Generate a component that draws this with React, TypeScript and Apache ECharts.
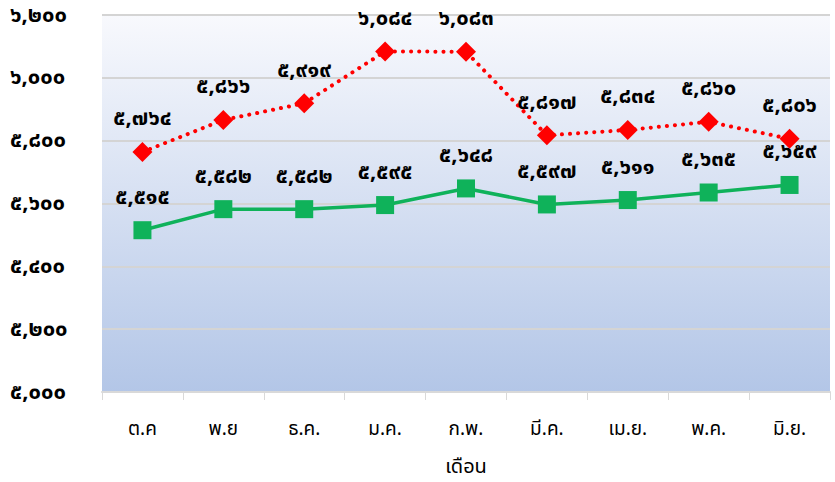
import React, { useEffect, useRef } from "react";
import * as echarts from "echarts";

const categories = ["ต.ค", "พ.ย", "ธ.ค.", "ม.ค.", "ก.พ.", "มี.ค.", "เม.ย.", "พ.ค.", "มิ.ย."];
const redValues = [5764, 5866, 5919, 6084, 6083, 5817, 5834, 5860, 5806];
const greenValues = [5515, 5582, 5582, 5595, 5648, 5597, 5611, 5635, 5659];
const yMin = 5000;
const yMax = 6200;
const yInterval = 200;
const axisName = "เดือน";

const thaiDigits = ["๐", "๑", "๒", "๓", "๔", "๕", "๖", "๗", "๘", "๙"];
function toThai(n: number): string {
  const s = Math.round(n).toString().replace(/\B(?=(\d{3})+(?!\d))/g, ",");
  return s.replace(/[0-9]/g, (d) => thaiDigits[Number(d)]);
}

const FONT = "Tahoma, 'Noto Sans Thai', 'DejaVu Sans', sans-serif";

export default function App() {
  const ref = useRef<HTMLDivElement>(null);
  useEffect(() => {
    if (!ref.current) return;
    const chart = echarts.init(ref.current, undefined, { renderer: "svg" });
    chart.setOption({
      animation: false,
      grid: {
        left: 102,
        right: 5,
        top: 15,
        bottom: 73,
        show: true,
        borderWidth: 0,
        backgroundColor: {
          type: "linear",
          x: 0,
          y: 0,
          x2: 0,
          y2: 1,
          colorStops: [
            { offset: 0, color: "#f8f9fd" },
            { offset: 1, color: "#b3c6e7" },
          ],
        },
      },
      xAxis: {
        type: "category",
        data: categories,
        boundaryGap: true,
        name: axisName,
        nameLocation: "middle",
        nameGap: 65,
        nameTextStyle: { fontSize: 20, color: "#000", fontFamily: FONT },
        axisLine: { show: true, lineStyle: { color: "#d9d9d9", width: 2 } },
        axisTick: { show: true, length: 8, lineStyle: { color: "#d9d9d9", width: 1 } },
        axisLabel: { margin: 28, fontSize: 19, color: "#000", fontFamily: FONT },
      },
      yAxis: {
        type: "value",
        min: yMin,
        max: yMax,
        interval: yInterval,
        axisLine: { show: false },
        axisTick: { show: false },
        splitLine: { lineStyle: { color: "#d4d4d4", width: 2 } },
        axisLabel: {
          align: "left",
          margin: 92,
          fontSize: 22,
          fontWeight: "bold",
          color: "#000",
          fontFamily: FONT,
          formatter: (v: number) => toThai(v),
        },
      },
      series: [
        {
          type: "line",
          data: redValues,
          symbol: "diamond",
          symbolSize: 20,
          itemStyle: { color: "#ff0000" },
          lineStyle: { color: "#ff0000", width: 4, type: [0.1, 8], cap: "round" },
          label: {
            show: true,
            position: "top",
            distance: 12,
            fontSize: 22,
            fontWeight: "bold",
            color: "#000",
            fontFamily: FONT,
            formatter: (p: any) => toThai(p.value),
          },
          z: 3,
        },
        {
          type: "line",
          data: greenValues,
          symbol: "rect",
          symbolSize: 18,
          itemStyle: { color: "#0fb25a" },
          lineStyle: { color: "#0fb25a", width: 3.5 },
          label: {
            show: true,
            position: "top",
            distance: 13,
            fontSize: 22,
            fontWeight: "bold",
            color: "#000",
            fontFamily: FONT,
            formatter: (p: any) => toThai(p.value),
          },
          z: 2,
        },
      ],
    });
    return () => chart.dispose();
  }, []);
  return (
    <div
      ref={ref}
      style={{ position: "absolute", left: 0, top: 0, width: 835, height: 482 }}
    />
  );
}
